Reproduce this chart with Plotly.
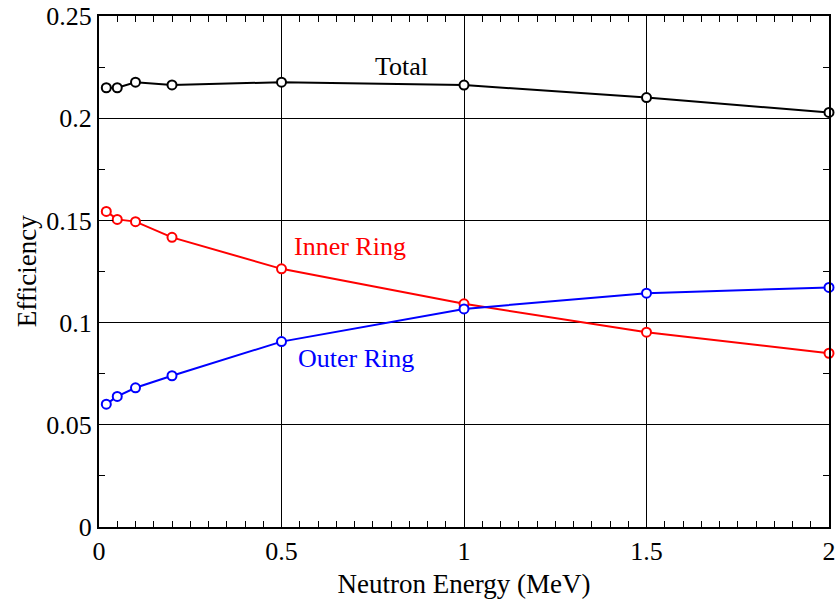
import plotly.graph_objects as go

energy = [0.02, 0.05, 0.1, 0.2, 0.5, 1.0, 1.5, 2.0]
total = [0.2149, 0.2149, 0.2176, 0.2163, 0.2176, 0.2162, 0.2101, 0.2028]
inner = [0.1544, 0.1505, 0.1494, 0.1417, 0.1263, 0.1092, 0.0953, 0.0850]
outer = [0.0601, 0.0639, 0.0681, 0.0740, 0.0907, 0.1067, 0.1144, 0.1172]

series = [("Total", total, "black"), ("Inner Ring", inner, "red"), ("Outer Ring", outer, "blue")]
label_pos = {"Total": (0.83, 0.2255), "Inner Ring": (0.688, 0.1373), "Outer Ring": (0.704, 0.0824)}

FONT = "Liberation Serif"
fig = go.Figure()
for name, vals, col in series:
    fig.add_trace(go.Scatter(
        x=energy, y=vals, mode="lines+markers", name=name,
        line=dict(color=col, width=2),
        marker=dict(symbol="circle", size=9, color="white", line=dict(color=col, width=2)),
        cliponaxis=False, showlegend=False))
    lx, ly = label_pos[name]
    fig.add_annotation(x=lx, y=ly, xref="x", yref="y", text=name, showarrow=False,
                       font=dict(family=FONT, size=26, color=col))

axis_common = dict(
    showline=True, linecolor="black", linewidth=2, mirror="ticks",
    ticks="inside", ticklen=14, tickwidth=1, tickcolor="black",
    showgrid=True, gridcolor="black", gridwidth=1, zeroline=False,
    automargin=False, ticklabeloverflow="allow",
    tickfont=dict(family=FONT, size=26, color="black"),
)
fig.update_xaxes(range=[0, 2], tickvals=[0, 0.5, 1, 1.5, 2],
                 ticktext=["0", "0.5", "1", "1.5", "2"],
                 minor=dict(dtick=0.05, ticks="inside", ticklen=6, tickcolor="black", showgrid=False),
                 title=dict(text="Neutron Energy (MeV)", font=dict(family=FONT, size=27, color="black")),
                 **axis_common)
fig.update_yaxes(range=[0, 0.25], tickvals=[0, 0.05, 0.1, 0.15, 0.2, 0.25],
                 ticktext=["0", "0.05", "0.1", "0.15", "0.2", "0.25"],
                 minor=dict(dtick=0.025, ticks="inside", ticklen=6, tickcolor="black", showgrid=False),
                 **axis_common)
# y-axis title as a rotated annotation, placed where the reference has it
fig.add_annotation(x=-0.099, y=0.5, xref="paper", yref="paper", text="Efficiency",
                   textangle=-90, showarrow=False, xanchor="center", yanchor="middle",
                   font=dict(family=FONT, size=27, color="black"))
fig.update_layout(width=840, height=599, margin=dict(l=99, r=11, t=16, b=72),
                  plot_bgcolor="white", paper_bgcolor="white",
                  font=dict(family=FONT, color="black"))
# remove the browser's default 8px body margin so the figure fills the window exactly
fig.write_html("out.html", config={"displayModeBar": False},
               post_script="document.body.style.margin='0';document.body.style.overflow='hidden';")
